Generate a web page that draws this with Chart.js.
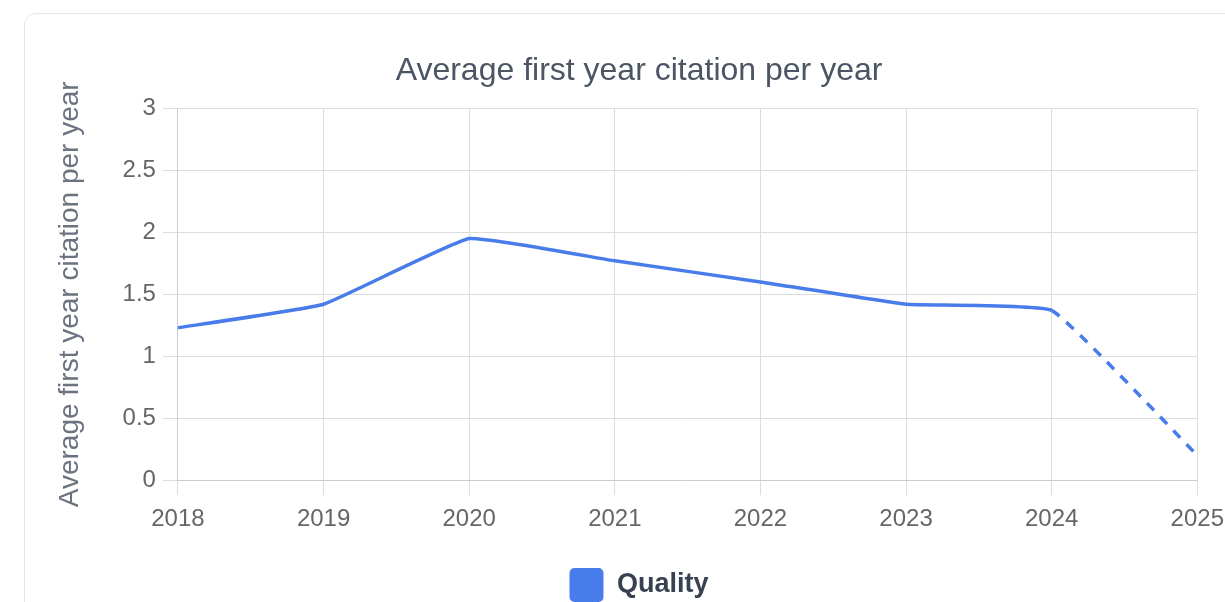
<!DOCTYPE html>
<html>
<head>
<meta charset="utf-8">
<script src="https://cdn.jsdelivr.net/npm/chart.js@4/dist/chart.umd.min.js"></script>
<style>
  html, body { margin: 0; padding: 0; background: #fff; overflow: hidden; }
  .card {
    position: absolute; left: 24px; top: 13px; width: 1260px; height: 660px;
    border: 1.5px solid #e3e5e8; border-radius: 12px; background: #fff;
  }
  .wrap { position: absolute; left: 44px; top: 30px; width: 1190px; height: 582px; }
</style>
</head>
<body>
<div class="card"></div>
<div class="wrap"><canvas id="chart"></canvas></div>
<script>
const years = ['2018', '2019', '2020', '2021', '2022', '2023', '2024', '2025']
const quality = [1.23, 1.42, 1.95, 1.77, 1.60, 1.42, 1.37, 0.20]
const yTicks = [0, 0.5, 1, 1.5, 2, 2.5, 3]

const blue = 'rgb(72, 124, 234)'
const font = 'Liberation Sans, Arial, sans-serif'
const lastIdx = years.length - 1

// the last year is still running, so its segment is dashed
const dashLast = (ctx) => ctx.p1DataIndex === lastIdx ? [10, 9] : undefined

new Chart(document.getElementById('chart'), {
  type: 'line',
  data: {
    labels: years,
    datasets: [{
      label: 'Quality',
      data: quality,
      borderColor: blue,
      backgroundColor: blue,
      borderWidth: 3.5,
      pointRadius: 0,
      tension: 0.1,
      segment: { borderDash: dashLast }
    }]
  },
  options: {
    responsive: true,
    maintainAspectRatio: false,
    animation: false,
    plugins: {
      title: {
        display: true,
        text: 'Average first year citation per year',
        color: '#4b5563',
        font: { family: font, size: 32, weight: 'normal' },
        padding: { top: 22, bottom: 18 }
      },
      legend: {
        position: 'bottom',
        labels: {
          boxWidth: 34,
          boxHeight: 34,
          useBorderRadius: true,
          borderRadius: 5,
          color: '#374151',
          padding: 24,
          font: { family: font, size: 27, weight: 'bold' },
          generateLabels: () => [{
            text: 'Quality',
            fillStyle: blue,
            strokeStyle: blue,
            fontColor: '#374151',
            lineWidth: 0,
            borderRadius: 5,
            datasetIndex: 0
          }]
        }
      },
      tooltip: { enabled: false }
    },
    scales: {
      x: {
        grid: { color: '#dcdcdc', tickLength: 15 },
        border: { color: '#cccccc' },
        ticks: {
          color: '#666',
          padding: 10,
          maxRotation: 0,
          font: { family: font, size: 24 }
        }
      },
      y: {
        min: 0,
        max: 3,
        afterBuildTicks: (axis) => { axis.ticks = yTicks.map(v => ({ value: v })) },
        grid: { color: '#dcdcdc', tickLength: 15 },
        border: { color: '#cccccc' },
        ticks: {
          color: '#666',
          padding: 7,
          callback: (v) => String(v),
          font: { family: font, size: 24 }
        },
        title: {
          display: true,
          text: 'Average first year citation per year',
          color: '#6b7280',
          padding: { top: 9, bottom: 29 },
          font: { family: font, size: 28 }
        }
      }
    }
  }
})
</script>
</body>
</html>
